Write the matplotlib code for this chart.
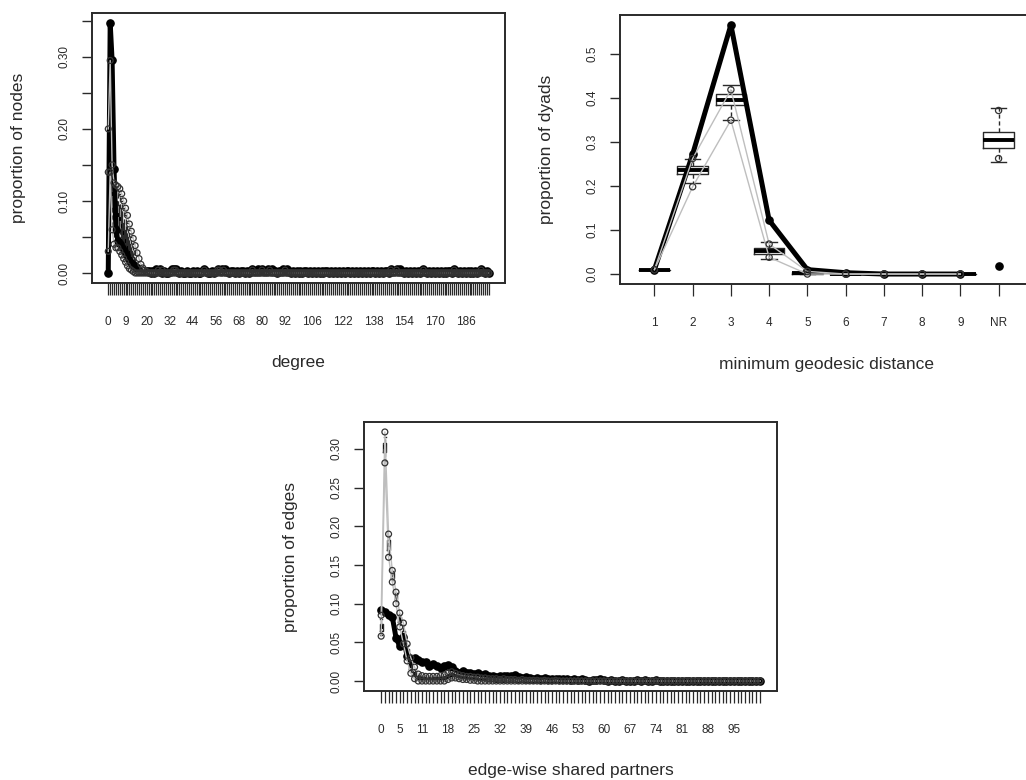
import numpy as np
import matplotlib
matplotlib.use("Agg")
import matplotlib.pyplot as plt

plt.rcParams['font.family'] = ['Liberation Sans', 'DejaVu Sans']

INK = "#2a2a2a"
GREY = "#bebebe"
RING = "#333333"

# ---------------- degree (top left) ----------------
deg_obs_head = [0.0, 0.347, 0.295, 0.145, 0.060, 0.045, 0.040, 0.035, 0.030, 0.025,
                0.020, 0.017, 0.014, 0.011, 0.009, 0.007, 0.005, 0.004, 0.003, 0.003, 0.003]
deg_obs_tail = [
    0.003, 0.0, 0.003, 0.0, 0.006, 0.003, 0.006, 0.0, 0.003, 0.0,
    0.0, 0.003, 0.006, 0.006, 0.006, 0.003, 0.0, 0.003, 0.0, 0.0,
    0.003, 0.0, 0.0, 0.003, 0.0, 0.003, 0.0, 0.0, 0.003, 0.006,
    0.003, 0.0, 0.0, 0.003, 0.0, 0.003, 0.006, 0.003, 0.006, 0.003,
    0.006, 0.003, 0.0, 0.003, 0.003, 0.0, 0.003, 0.0, 0.003, 0.003,
    0.0, 0.003, 0.0, 0.003, 0.006, 0.003, 0.003, 0.006, 0.003, 0.006,
    0.003, 0.003, 0.006, 0.003, 0.006, 0.003, 0.003, 0.0, 0.003, 0.003,
    0.006, 0.003, 0.006, 0.003, 0.0, 0.003, 0.0, 0.003, 0.0, 0.003,
    0.0, 0.003, 0.003, 0.0, 0.003, 0.0, 0.003, 0.0, 0.003, 0.0,
    0.003, 0.0, 0.003, 0.003, 0.0, 0.003, 0.0, 0.003, 0.0, 0.003,
    0.0, 0.003, 0.0, 0.003, 0.003, 0.0, 0.003, 0.0, 0.003, 0.0,
    0.003, 0.0, 0.003, 0.0, 0.003, 0.0, 0.003, 0.003, 0.0, 0.003,
    0.0, 0.003, 0.0, 0.003, 0.003, 0.0, 0.006, 0.003, 0.003, 0.006,
    0.003, 0.006, 0.003, 0.0, 0.003, 0.0, 0.003, 0.0, 0.003, 0.0,
    0.003, 0.0, 0.003, 0.006, 0.003, 0.0, 0.003, 0.0, 0.003, 0.0,
    0.003, 0.0, 0.003, 0.0, 0.003, 0.0, 0.003, 0.003, 0.0, 0.006,
    0.003, 0.0, 0.003, 0.0, 0.003, 0.0, 0.003, 0.0, 0.003, 0.0,
    0.003, 0.0, 0.003, 0.006, 0.003, 0.0, 0.003, 0.0,
]
# simulated summaries, degree 0..20
deg_lo  = [0.030, 0.140, 0.060, 0.040, 0.035, 0.035, 0.030, 0.025, 0.020, 0.015, 0.010,
           0.006, 0.004, 0.002, 0.0, 0.0, 0.0, 0.0, 0.0, 0.0, 0.0]
deg_wlo = [0.030, 0.160, 0.065, 0.045, 0.040, 0.038, 0.033, 0.027, 0.022, 0.016, 0.011,
           0.007, 0.004, 0.002, 0.0, 0.0, 0.0, 0.0, 0.0, 0.0, 0.0]
deg_q1  = [0.050, 0.200, 0.090, 0.075, 0.070, 0.065, 0.060, 0.050, 0.040, 0.030, 0.025,
           0.018, 0.012, 0.008, 0.005, 0.003, 0.001, 0.0, 0.0, 0.0, 0.0]
deg_med = [0.065, 0.230, 0.110, 0.090, 0.085, 0.080, 0.075, 0.065, 0.055, 0.045, 0.035,
           0.028, 0.020, 0.014, 0.009, 0.006, 0.004, 0.002, 0.001, 0.0, 0.0]
deg_q3  = [0.080, 0.250, 0.125, 0.105, 0.100, 0.095, 0.090, 0.080, 0.070, 0.060, 0.050,
           0.040, 0.030, 0.022, 0.015, 0.010, 0.007, 0.004, 0.002, 0.001, 0.0]
deg_whi = [0.110, 0.295, 0.145, 0.120, 0.120, 0.115, 0.110, 0.100, 0.090, 0.080, 0.070,
           0.060, 0.050, 0.040, 0.030, 0.020, 0.014, 0.009, 0.005, 0.003, 0.002]
deg_hi  = [0.200, 0.295, 0.150, 0.125, 0.122, 0.120, 0.117, 0.110, 0.100, 0.090, 0.080,
           0.068, 0.058, 0.048, 0.038, 0.028, 0.020, 0.012, 0.007, 0.004, 0.002]
deg_hi_tail = [
    0, 0, 0, 0, 0, 0.004, 0, 0.004, 0, 0,
    0, 0, 0, 0.004, 0.004, 0, 0, 0, 0, 0,
    0, 0, 0, 0, 0, 0, 0, 0, 0, 0.004,
    0, 0, 0, 0, 0, 0, 0.004, 0.004, 0, 0.004,
    0, 0, 0, 0, 0, 0, 0, 0, 0, 0,
    0, 0, 0, 0, 0.004, 0, 0, 0, 0, 0.004,
    0, 0, 0, 0.004, 0, 0, 0, 0, 0, 0,
    0, 0.004, 0, 0, 0, 0, 0, 0, 0, 0,
    0, 0, 0, 0, 0, 0, 0, 0, 0, 0,
    0, 0, 0, 0, 0, 0, 0, 0, 0, 0,
    0, 0, 0, 0, 0, 0, 0, 0, 0, 0,
    0, 0, 0, 0, 0, 0, 0, 0, 0, 0,
    0, 0, 0, 0, 0, 0, 0.004, 0, 0, 0.004,
    0, 0, 0, 0, 0, 0, 0, 0, 0, 0,
    0, 0, 0, 0.004, 0, 0, 0, 0, 0, 0,
    0, 0, 0, 0, 0, 0, 0, 0, 0, 0.004,
    0, 0, 0, 0, 0, 0, 0, 0, 0, 0,
    0, 0, 0, 0.004, 0, 0, 0, 0,
]
deg_extra_x = [0]
deg_extra_y = [0.140]
deg_ticklabels = [0, 9, 20, 32, 44, 56, 68, 80, 92, 106, 122, 138, 154, 170, 186]
deg_yticks = [0.00, 0.05, 0.10, 0.15, 0.20, 0.25, 0.30, 0.35]
deg_ylabeled = [0.00, 0.10, 0.20, 0.30]

# ---------------- geodesic distance (top right) ----------------
geo_names = ["1", "2", "3", "4", "5", "6", "7", "8", "9", "NR"]
geo_obs = [0.010, 0.272, 0.565, 0.122, 0.010, 0.003, 0.0, 0.0, 0.0]
geo_obs_nr = 0.018
geo_lo  = [0.010, 0.198, 0.349, 0.038, 0.0, 0.0, 0.0, 0.0, 0.0, 0.262]
geo_wlo = [0.010, 0.206, 0.350, 0.033, 0.0, 0.0, 0.0, 0.0, 0.0, 0.255]
geo_q1  = [0.010, 0.227, 0.384, 0.046, 0.001, 0.0, 0.0, 0.0, 0.0, 0.286]
geo_med = [0.010, 0.235, 0.395, 0.052, 0.002, 0.0, 0.0, 0.0, 0.0, 0.305]
geo_q3  = [0.010, 0.244, 0.408, 0.058, 0.004, 0.0, 0.0, 0.0, 0.0, 0.323]
geo_whi = [0.010, 0.262, 0.428, 0.072, 0.006, 0.0, 0.0, 0.0, 0.0, 0.376]
geo_hi  = [0.010, 0.262, 0.418, 0.068, 0.006, 0.0, 0.0, 0.0, 0.0, 0.371]
geo_yticks = [0.0, 0.1, 0.2, 0.3, 0.4, 0.5]

# ---------------- edge-wise shared partners (bottom) ----------------
esp_obs = [
    0.092, 0.089, 0.086, 0.083, 0.056, 0.045, 0.057, 0.032, 0.029, 0.030,
    0.027, 0.025, 0.024, 0.020, 0.022, 0.019, 0.017, 0.020, 0.021, 0.018,
    0.013, 0.011, 0.013, 0.010, 0.011, 0.009, 0.010, 0.008, 0.009, 0.007,
    0.006, 0.005, 0.007, 0.006, 0.007, 0.006, 0.008, 0.005, 0.004, 0.005,
    0.004, 0.003, 0.004, 0.003, 0.004, 0.003, 0.002, 0.003, 0.002, 0.003,
    0.002, 0.001, 0.002, 0.001, 0.002, 0.001, 0.0, 0.001, 0.001, 0.002,
    0.001, 0.0, 0.001, 0.0, 0.0, 0.001, 0.0, 0.0, 0.0, 0.001,
    0.0, 0.001, 0.0, 0.0, 0.001, 0.0, 0.0, 0.0, 0.0, 0.0,
    0.0, 0.0, 0.0, 0.0, 0.0, 0.0, 0.0, 0.0, 0.0, 0.0,
    0.0, 0.0, 0.0, 0.0, 0.0, 0.0, 0.0, 0.0, 0.0, 0.0,
    0.0, 0.0, 0.0,
]
# simulated summaries, esp 0..30
esp_lo  = [0.058, 0.282, 0.160, 0.128, 0.100, 0.070, 0.048, 0.026, 0.010, 0.003, 0.0,
           0.0, 0.0, 0.0, 0.0, 0.0, 0.0, 0.0, 0.002, 0.004, 0.004,
           0.003, 0.002, 0.002, 0.001, 0.001, 0.0, 0.0, 0.0, 0.0, 0.0]
esp_wlo = [0.060, 0.285, 0.163, 0.130, 0.103, 0.072, 0.050, 0.028, 0.012, 0.004, 0.001,
           0.0, 0.0, 0.0, 0.0, 0.0, 0.0, 0.0, 0.002, 0.004, 0.004,
           0.003, 0.002, 0.002, 0.001, 0.001, 0.0, 0.0, 0.0, 0.0, 0.0]
esp_q1  = [0.065, 0.296, 0.170, 0.133, 0.106, 0.076, 0.055, 0.033, 0.016, 0.006, 0.002,
           0.001, 0.001, 0.001, 0.001, 0.001, 0.001, 0.002, 0.003, 0.005, 0.005,
           0.004, 0.003, 0.003, 0.002, 0.002, 0.001, 0.001, 0.001, 0.0, 0.0]
esp_med = [0.070, 0.302, 0.176, 0.137, 0.109, 0.079, 0.060, 0.037, 0.019, 0.009, 0.004,
           0.003, 0.002, 0.002, 0.002, 0.002, 0.002, 0.003, 0.005, 0.007, 0.007,
           0.005, 0.004, 0.004, 0.003, 0.003, 0.002, 0.002, 0.001, 0.001, 0.001]
esp_q3  = [0.074, 0.308, 0.182, 0.140, 0.112, 0.083, 0.065, 0.041, 0.023, 0.012, 0.006,
           0.004, 0.004, 0.003, 0.003, 0.003, 0.004, 0.005, 0.007, 0.009, 0.008,
           0.006, 0.005, 0.005, 0.004, 0.004, 0.003, 0.003, 0.002, 0.002, 0.001]
esp_whi = [0.080, 0.315, 0.188, 0.142, 0.114, 0.087, 0.072, 0.046, 0.028, 0.016, 0.008,
           0.006, 0.006, 0.005, 0.005, 0.005, 0.006, 0.007, 0.009, 0.011, 0.010,
           0.008, 0.006, 0.006, 0.005, 0.005, 0.004, 0.004, 0.003, 0.003, 0.002]
esp_hi  = [0.085, 0.322, 0.190, 0.143, 0.115, 0.088, 0.075, 0.048, 0.030, 0.018, 0.009,
           0.007, 0.006, 0.006, 0.006, 0.006, 0.007, 0.008, 0.010, 0.012, 0.010,
           0.008, 0.007, 0.006, 0.006, 0.005, 0.005, 0.004, 0.004, 0.003, 0.003]
esp_hi_tail = [
    0.003, 0.002, 0.003, 0.002, 0.002, 0.002, 0.001, 0.002, 0.001, 0.001,
    0.001, 0.001, 0.0, 0.001, 0.0, 0.0, 0.001, 0.0, 0.0, 0.0,
    0.0, 0.0, 0.0, 0.0, 0.0, 0.0, 0.0, 0.0, 0.0, 0.0,
    0.0, 0.0, 0.0, 0.0, 0.0, 0.0, 0.0, 0.0, 0.0, 0.0,
    0.0, 0.0, 0.0, 0.0, 0.0, 0.0, 0.0, 0.0, 0.0, 0.0,
    0.0, 0.0, 0.0, 0.0, 0.0, 0.0, 0.0, 0.0, 0.0, 0.0,
    0.0, 0.0, 0.0, 0.0, 0.0, 0.0, 0.0, 0.0, 0.0, 0.0,
    0.0, 0.0,
]
esp_ticklabels = [0, 5, 11, 18, 25, 32, 39, 46, 53, 60, 67, 74, 81, 88, 95]
esp_yticks = [0.00, 0.05, 0.10, 0.15, 0.20, 0.25, 0.30]


def gof_panel(ax, x, obs, wlo, q1, med, q3, whi, obs_x=None):
    # simulated boxes, then the observed statistic as a thick line with dots
    stats = [dict(q1=a, med=m, q3=b, whislo=wl, whishi=wh, fliers=[])
             for a, m, b, wl, wh in zip(q1, med, q3, wlo, whi)]
    ax.bxp(stats, positions=x, widths=0.8, showfliers=False, manage_ticks=False,
           boxprops=dict(color=INK, lw=1.0),
           whiskerprops=dict(color=INK, lw=1.0, ls=(0, (3, 2))),
           capprops=dict(color=INK, lw=1.0),
           medianprops=dict(color="black", lw=2.8, solid_capstyle="butt"))
    ox = x if obs_x is None else obs_x
    ax.plot(ox, obs, color="black", lw=3.6, marker="o", ms=5.2, zorder=4)


def bounds(ax, x, lo, hi, line_x=None, s=18):
    lx = x if line_x is None else line_x
    ax.plot(lx, lo[:len(lx)], color=GREY, lw=1.0, zorder=5)
    ax.plot(lx, hi[:len(lx)], color=GREY, lw=1.0, zorder=5)
    ax.scatter(x, lo, s=s, facecolors="none", edgecolors=RING, lw=0.9, zorder=5)
    ax.scatter(x, hi, s=s, facecolors="none", edgecolors=RING, lw=0.9, zorder=5)


def style_axes(ax, xlim, ylim, ytick_vals, ytick_txt, xlab, ylab):
    ax.set_xlim(*xlim)
    ax.set_ylim(*ylim)
    for s in ax.spines.values():
        s.set_color(INK)
        s.set_linewidth(1.4)
    ax.set_yticks(ytick_vals)
    ax.set_yticklabels(ytick_txt, rotation=90, va="center")
    ax.tick_params(axis="y", length=7.2, width=1.0, color=INK, pad=8.5, labelsize=8.5, labelcolor=INK)
    ax.tick_params(axis="x", length=8.5, width=0.9, color=INK, pad=15, labelsize=8.5, labelcolor=INK)
    ax.set_xlabel(xlab, fontsize=12.5, color=INK, va="center")
    ax.set_ylabel(ylab, fontsize=12.5, color=INK, va="center")


W, H = 1026, 780
fig = plt.figure(figsize=(W / 100, H / 100), dpi=100)


def px_axes(left, top, width, height):
    return fig.add_axes([left / W, (H - top - height) / H, width / W, height / H])


# ---- degree ----
ax1 = px_axes(92, 13, 413, 270)
deg_obs = deg_obs_head + deg_obs_tail
n_deg = len(deg_obs)
deg_x = np.arange(n_deg)
zt = [0.0] * (n_deg - len(deg_med))
gof_panel(ax1, deg_x, deg_obs, deg_wlo + zt, deg_q1 + zt, deg_med + zt, deg_q3 + zt, deg_whi + zt)
bounds(ax1, deg_x, deg_lo + zt, deg_hi + deg_hi_tail)
ax1.scatter(deg_extra_x, deg_extra_y, s=18, facecolors="none", edgecolors=RING, lw=0.9, zorder=5)
ax1.set_xticks(deg_x)
ax1.set_xticklabels([str(d) if d in deg_ticklabels else "" for d in deg_x])
r = max(deg_obs)
style_axes(ax1, (-0.5 - 0.04 * n_deg, n_deg - 0.5 + 0.04 * n_deg), (-0.04 * r, 1.04 * r),
           deg_yticks, [f"{v:.2f}" if v in deg_ylabeled else "" for v in deg_yticks],
           "degree", "proportion of nodes")
ax1.xaxis.set_label_coords(0.5, -0.296)
ax1.yaxis.set_label_coords(-0.179, 0.5)

# ---- geodesic ----
ax2 = px_axes(620, 15, 413, 269)
geo_x = np.arange(1, len(geo_names) + 1)
gof_panel(ax2, geo_x, geo_obs, geo_wlo, geo_q1, geo_med, geo_q3, geo_whi,
          obs_x=geo_x[:len(geo_obs)])
ax2.plot(geo_x[-1], geo_obs_nr, "o", color="black", ms=5.2, zorder=4)
bounds(ax2, geo_x, geo_lo, geo_hi, line_x=geo_x[:-1], s=20)
ax2.set_xticks(geo_x)
ax2.set_xticklabels(geo_names)
r = max(geo_obs)
style_axes(ax2, (0.5 - 0.04 * len(geo_x), len(geo_x) + 0.5 + 0.04 * len(geo_x)),
           (-0.04 * r, 1.04 * r), geo_yticks, [f"{v:.1f}" for v in geo_yticks],
           "minimum geodesic distance", "proportion of dyads")
ax2.xaxis.set_label_coords(0.5, -0.301)
ax2.yaxis.set_label_coords(-0.177, 0.5)

# ---- esp ----
ax3 = px_axes(364, 422, 413, 269)
n_esp = len(esp_obs)
esp_x = np.arange(n_esp)
zt = [0.0] * (n_esp - len(esp_med))
gof_panel(ax3, esp_x, esp_obs, esp_wlo + zt, esp_q1 + zt, esp_med + zt, esp_q3 + zt, esp_whi + zt)
bounds(ax3, esp_x, esp_lo + zt, esp_hi + esp_hi_tail)
ax3.set_xticks(esp_x)
ax3.set_xticklabels([str(d) if d in esp_ticklabels else "" for d in esp_x])
r = max(esp_hi)
style_axes(ax3, (-0.5 - 0.04 * n_esp, n_esp - 0.5 + 0.04 * n_esp), (-0.04 * r, 1.04 * r),
           esp_yticks, [f"{v:.2f}" for v in esp_yticks],
           "edge-wise shared partners", "proportion of edges")
ax3.xaxis.set_label_coords(0.5, -0.294)
ax3.yaxis.set_label_coords(-0.179, 0.5)

fig.savefig("out.png", dpi=100)
